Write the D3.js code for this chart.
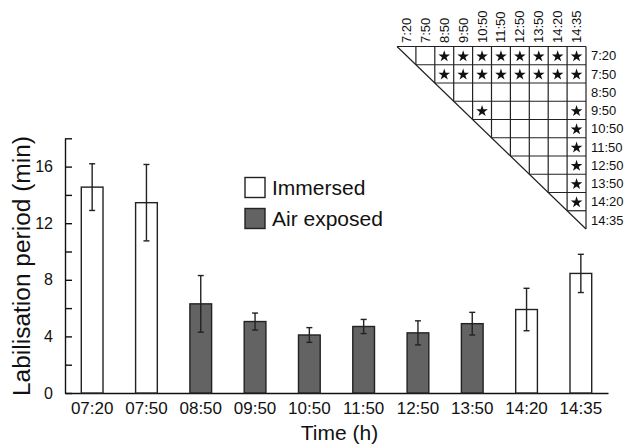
<!DOCTYPE html>
<html>
<head>
<meta charset="utf-8">
<script src="https://cdn.jsdelivr.net/npm/d3@7"></script>
<style>
  body { margin: 0; background: #fff; }
  svg text { font-family: "Liberation Sans", Arial, Helvetica, sans-serif; fill: #111; }
</style>
</head>
<body>
<script>
// bar chart data
var times = ["07:20", "07:50", "08:50", "09:50", "10:50", "11:50", "12:50", "13:50", "14:20", "14:35"];
var means = [14.55, 13.45, 6.3, 5.05, 4.1, 4.7, 4.25, 4.9, 5.9, 8.45];
var errs  = [1.65, 2.7, 2.0, 0.6, 0.52, 0.5, 0.85, 0.8, 1.5, 1.35];
var groups = ["Immersed", "Immersed", "Air exposed", "Air exposed", "Air exposed",
              "Air exposed", "Air exposed", "Air exposed", "Immersed", "Immersed"];
var yTicks = [0, 2, 4, 6, 8, 10, 12, 14, 16, 18];

// significance matrix data
var matLabels = ["7:20", "7:50", "8:50", "9:50", "10:50", "11:50", "12:50", "13:50", "14:20", "14:35"];
var sigPairs = [
  [0, 2], [0, 3], [0, 4], [0, 5], [0, 6], [0, 7], [0, 8], [0, 9],
  [1, 2], [1, 3], [1, 4], [1, 5], [1, 6], [1, 7], [1, 8], [1, 9],
  [3, 4], [3, 9], [4, 9], [5, 9], [6, 9], [7, 9], [8, 9]
];

var legendKeys = ["Immersed", "Air exposed"];
var fills = {"Immersed": "#ffffff", "Air exposed": "#636363"};

var width = 627, height = 445;
var svg = d3.select("body").append("svg")
    .attr("width", width)
    .attr("height", height);

svg.append("rect").attr("width", width).attr("height", height).attr("fill", "#fff");

var x = d3.scaleBand()
    .domain(times)
    .range([65, 608])
    .paddingInner(0.6)
    .paddingOuter(0.3);

var y = d3.scaleLinear()
    .domain([0, 18])
    .range([393, 138.3]);

// y axis, ticks pointing in
var yAxis = svg.append("g")
    .attr("transform", "translate(65,0)")
    .call(d3.axisLeft(y)
      .tickValues(yTicks)
      .tickSizeInner(-7)
      .tickSizeOuter(0)
      .tickPadding(12)
      .tickFormat(function(d) { return d % 4 === 0 ? d : ""; }));
yAxis.selectAll("path, line").attr("stroke", "#111").attr("stroke-width", 1.4);
yAxis.selectAll("text").attr("font-size", 16).attr("fill", "#111");

// x axis
var xAxis = svg.append("g")
    .attr("transform", "translate(0,393)")
    .call(d3.axisBottom(x).tickSize(0).tickPadding(9).tickSizeOuter(0));
xAxis.selectAll("path").attr("stroke", "#111").attr("stroke-width", 1.4);
xAxis.selectAll("text").attr("font-size", 17).attr("fill", "#111");

// bars
svg.selectAll(".bar")
    .data(times)
    .enter()
    .append("rect")
    .attr("class", "bar")
    .attr("x", function(d) { return x(d); })
    .attr("y", function(d, i) { return y(means[i]); })
    .attr("width", x.bandwidth())
    .attr("height", function(d, i) { return y(0) - y(means[i]); })
    .attr("fill", function(d, i) { return fills[groups[i]]; })
    .attr("stroke", "#222")
    .attr("stroke-width", 1.4);

// error bars
var eb = svg.selectAll(".err")
    .data(times)
    .enter()
    .append("g")
    .attr("class", "err")
    .attr("stroke", "#222")
    .attr("stroke-width", 1.4);
eb.append("line")
    .attr("x1", function(d) { return x(d) + x.bandwidth() / 2; })
    .attr("x2", function(d) { return x(d) + x.bandwidth() / 2; })
    .attr("y1", function(d, i) { return y(means[i] + errs[i]); })
    .attr("y2", function(d, i) { return y(means[i] - errs[i]); });
eb.append("line")
    .attr("x1", function(d) { return x(d) + x.bandwidth() / 2 - 3; })
    .attr("x2", function(d) { return x(d) + x.bandwidth() / 2 + 3; })
    .attr("y1", function(d, i) { return y(means[i] + errs[i]); })
    .attr("y2", function(d, i) { return y(means[i] + errs[i]); });
eb.append("line")
    .attr("x1", function(d) { return x(d) + x.bandwidth() / 2 - 3; })
    .attr("x2", function(d) { return x(d) + x.bandwidth() / 2 + 3; })
    .attr("y1", function(d, i) { return y(means[i] - errs[i]); })
    .attr("y2", function(d, i) { return y(means[i] - errs[i]); });

// axis titles
svg.append("text")
    .attr("transform", "translate(30,266) rotate(-90)")
    .attr("text-anchor", "middle")
    .attr("font-size", 23)
    .attr("textLength", 260)
    .attr("lengthAdjust", "spacingAndGlyphs")
    .text("Labilisation period (min)");

svg.append("text")
    .attr("x", 339.5)
    .attr("y", 440)
    .attr("text-anchor", "middle")
    .attr("font-size", 21)
    .text("Time (h)");

// legend
var lg = svg.selectAll(".legend")
    .data(legendKeys)
    .enter()
    .append("g")
    .attr("class", "legend")
    .attr("transform", function(d, i) { return "translate(245," + (177.5 + i * 31) + ")"; });
lg.append("rect")
    .attr("width", 20)
    .attr("height", 20)
    .attr("fill", function(d) { return fills[d]; })
    .attr("stroke", "#222")
    .attr("stroke-width", 1.4);
lg.append("text")
    .attr("x", 27)
    .attr("y", 17.5)
    .attr("font-size", 21)
    .text(function(d) { return d; });

// significance triangle
var n = matLabels.length;
var mx = d3.scaleLinear().domain([0, n]).range([397, 586]);
var my = d3.scaleLinear().domain([0, n]).range([46.5, 229]);
var mg = svg.append("g").attr("stroke", "#222").attr("stroke-width", 1.2);

// horizontal lines
mg.selectAll(".hl")
    .data(d3.range(n))
    .enter()
    .append("line")
    .attr("x1", function(i) { return mx(i); })
    .attr("x2", mx(n))
    .attr("y1", function(i) { return my(i); })
    .attr("y2", function(i) { return my(i); });
// vertical lines
mg.selectAll(".vl")
    .data(d3.range(1, n + 1))
    .enter()
    .append("line")
    .attr("x1", function(j) { return mx(j); })
    .attr("x2", function(j) { return mx(j); })
    .attr("y1", my(0))
    .attr("y2", function(j) { return my(j); });
// diagonal
mg.append("line")
    .attr("x1", mx(0)).attr("y1", my(0))
    .attr("x2", mx(n)).attr("y2", my(n));

// column labels
svg.selectAll(".collab")
    .data(matLabels)
    .enter()
    .append("text")
    .attr("transform", function(d, j) {
      return "translate(" + (mx(j + 0.5) + 4.5) + "," + (my(0) - 3.5) + ") rotate(-90)";
    })
    .attr("font-size", 13)
    .text(function(d) { return d; });

// row labels
svg.selectAll(".rowlab")
    .data(matLabels)
    .enter()
    .append("text")
    .attr("x", mx(n) + 5)
    .attr("y", function(d, i) { return my(i + 0.5); })
    .attr("dy", "0.36em")
    .attr("font-size", 13)
    .text(function(d) { return d; });

// stars
svg.selectAll(".star")
    .data(sigPairs)
    .enter()
    .append("path")
    .attr("d", d3.symbol().type(d3.symbolStar).size(42))
    .attr("transform", function(p) {
      return "translate(" + mx(p[1] + 0.5) + "," + (my(p[0] + 0.5) + 0.8) + ")";
    })
    .attr("fill", "#111");
</script>
</body>
</html>
